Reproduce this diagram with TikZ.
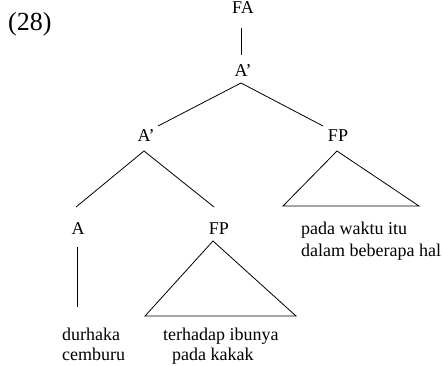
\documentclass[tikz,border=0pt]{standalone}
\usepackage{fontspec}
\setmainfont{Liberation Serif}
\begin{document}
\begin{tikzpicture}[x=1pt,y=-1pt,
  lbl/.style={inner sep=0pt,anchor=base,font=\fontsize{18}{21}\selectfont},
  txt/.style={inner sep=0pt,anchor=base west,font=\fontsize{18}{21}\selectfont},
  edge/.style={line width=0.8pt}]
\useasboundingbox (0,0) rectangle (442,365);
\node[inner sep=0pt,anchor=base west,font=\fontsize{26}{30}\selectfont] (num) at (8,30) {(28)};
% labels
\node[lbl] (FA) at (243,13.5) {FA};
\node[lbl] (Ab1) at (243,76) {A’};
\node[lbl] (Ab2) at (146,141) {A’};
\node[lbl] (FP1) at (338,141) {FP};
\node[lbl] (A) at (78,234) {A};
\node[lbl] (FP2) at (219,234) {FP};
% texts
\node[txt] (t1) at (301,234.5) {pada waktu itu};
\node[txt] (t2) at (301,256) {dalam beberapa hal};
\node[txt] (t3) at (62,340) {durhaka};
\node[txt] (t4) at (62,360) {cemburu};
\node[txt] (t5) at (163,340) {terhadap ibunya};
\node[txt] (t6) at (172,360) {pada kakak};
% connector coordinates
\coordinate (c1) at (241,28);
\coordinate (c2) at (241,55);
\coordinate (c3) at (241,83);
\coordinate (c4) at (158,126);
\coordinate (c5) at (323,126);
\coordinate (c6) at (144,151);
\coordinate (c7) at (76,207);
\coordinate (c8) at (214,207);
\coordinate (c9) at (337,151);
\coordinate (c10) at (283,206);
\coordinate (c11) at (419,206);
\coordinate (c12) at (77,247);
\coordinate (c13) at (77,307);
\coordinate (c14) at (213,241);
\coordinate (c15) at (145,316);
\coordinate (c16) at (296,316);
\draw[edge] (c1) -- (c2);
\draw[edge] (c4) -- (c3) -- (c5);
\draw[edge] (c7) -- (c6) -- (c8);
\draw[edge] (c9) -- (c10) -- (c11) -- cycle;
\draw[edge] (c12) -- (c13);
\draw[edge] (c14) -- (c15) -- (c16) -- cycle;
\end{tikzpicture}
\end{document}
